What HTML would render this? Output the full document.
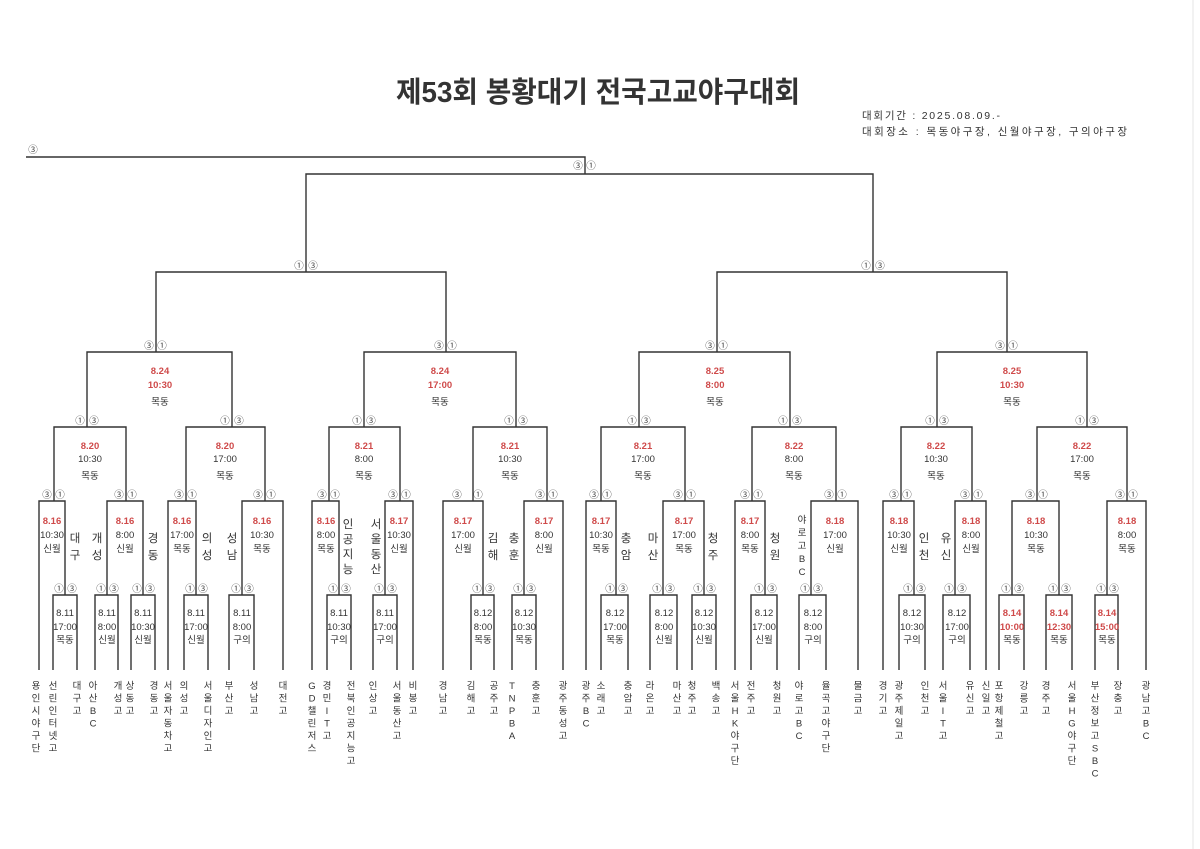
<!DOCTYPE html>
<html><head><meta charset="utf-8"><style>
body{margin:0;background:#fff;}
svg{display:block;font-family:"Liberation Sans","Noto Sans CJK KR",sans-serif;}
.l{fill:none;stroke:#333;stroke-width:1.4}
.t{font-size:9.5px;fill:#333;text-anchor:middle}
.r{font-size:9.5px;fill:#cf4a4a;text-anchor:middle;font-weight:bold}
.c{font-size:9.5px;fill:#444;text-anchor:middle}
.n{font-size:9.5px;fill:#333;text-anchor:middle}
.s{font-size:11.5px;fill:#333;text-anchor:middle}
</style></head><body>
<svg width="1200" height="849" viewBox="0 0 1200 849" xmlns="http://www.w3.org/2000/svg">
<rect width="1200" height="849" fill="#fff"/>
<line x1="1193" y1="0" x2="1193" y2="849" stroke="#e4e4e4" stroke-width="1"/>
<text x="598" y="102" text-anchor="middle" font-size="29" font-weight="bold" fill="#333" font-family="'Liberation Sans','Noto Sans CJK KR',sans-serif" textLength="404" lengthAdjust="spacingAndGlyphs">제53회 봉황대기 전국고교야구대회</text>
<text x="862" y="119" font-size="10.5" fill="#333" textLength="138" lengthAdjust="spacing">대회기간 : 2025.08.09.-</text>
<text x="862" y="135" font-size="10.5" fill="#333" textLength="265" lengthAdjust="spacing">대회장소 : 목동야구장, 신월야구장, 구의야구장</text>

<g class="l">
<path d="M26 157H585V174"/>
<path d="M306 272V174H873V272"/>
<path d="M156 352V272H446V352"/><path d="M717 352V272H1007V352"/>
<path d="M87 427V352H232V427"/><path d="M364 427V352H516V427"/><path d="M639 427V352H790V427"/><path d="M937 427V352H1087V427"/>
<path d="M54 501V427H126V501"/><path d="M186 501V427H265V501"/><path d="M329 501V427H400V501"/><path d="M473 501V427H547V501"/>
<path d="M601 501V427H685V501"/><path d="M752 501V427H836V501"/><path d="M901 501V427H972V501"/><path d="M1037 501V427H1127V501"/>
<path d="M39 670V501H65V595"/><path d="M107 595V501H143V595"/><path d="M168 670V501H196V595"/><path d="M242 595V501H283V670"/>
<path d="M312 670V501H339V595"/><path d="M385 595V501H413V670"/><path d="M443 670V501H483V595"/><path d="M524 595V501H563V670"/>
<path d="M586 670V501H616V595"/><path d="M663 595V501H704V595"/><path d="M735 670V501H765V595"/><path d="M811 595V501H858V670"/>
<path d="M883 670V501H914V595"/><path d="M955 595V501H986V670"/><path d="M1012 595V501H1059V595"/><path d="M1107 595V501H1146V670"/>
<path d="M53 670V595H77V670"/><path d="M95 670V595H118V670"/><path d="M131 670V595H155V670"/><path d="M184 670V595H208V670"/><path d="M229 670V595H254V670"/>
<path d="M327 670V595H351V670"/><path d="M373 670V595H397V670"/><path d="M471 670V595H494V670"/><path d="M512 670V595H536V670"/>
<path d="M601 670V595H628V670"/><path d="M650 670V595H677V670"/><path d="M692 670V595H716V670"/><path d="M751 670V595H777V670"/><path d="M799 670V595H826V670"/>
<path d="M899 670V595H925V670"/><path d="M943 670V595H970V670"/><path d="M999 670V595H1024V670"/><path d="M1046 670V595H1072V670"/><path d="M1095 670V595H1118V670"/>
</g>

<g class="c">
<text x="33" y="153">③</text>
<text x="578" y="169">③</text><text x="591" y="169">①</text>
<text x="299" y="269">①</text><text x="313" y="269">③</text>
<text x="866" y="269">①</text><text x="880" y="269">③</text>
<text x="149" y="349">③</text><text x="162" y="349">①</text>
<text x="439" y="349">③</text><text x="452" y="349">①</text>
<text x="710" y="349">③</text><text x="723" y="349">①</text>
<text x="1000" y="349">③</text><text x="1013" y="349">①</text>
<text x="80" y="424">①</text><text x="94" y="424">③</text>
<text x="225" y="424">①</text><text x="239" y="424">③</text>
<text x="357" y="424">①</text><text x="371" y="424">③</text>
<text x="509" y="424">①</text><text x="523" y="424">③</text>
<text x="632" y="424">①</text><text x="646" y="424">③</text>
<text x="783" y="424">①</text><text x="797" y="424">③</text>
<text x="930" y="424">①</text><text x="944" y="424">③</text>
<text x="1080" y="424">①</text><text x="1094" y="424">③</text>
<text x="47" y="498">③</text><text x="60" y="498">①</text>
<text x="119" y="498">③</text><text x="132" y="498">①</text>
<text x="179" y="498">③</text><text x="192" y="498">①</text>
<text x="258" y="498">③</text><text x="271" y="498">①</text>
<text x="322" y="498">③</text><text x="335" y="498">①</text>
<text x="393" y="498">③</text><text x="406" y="498">①</text>
<text x="457" y="498">③</text><text x="478" y="498">①</text>
<text x="540" y="498">③</text><text x="553" y="498">①</text>
<text x="594" y="498">③</text><text x="607" y="498">①</text>
<text x="678" y="498">③</text><text x="691" y="498">①</text>
<text x="745" y="498">③</text><text x="758" y="498">①</text>
<text x="829" y="498">③</text><text x="842" y="498">①</text>
<text x="894" y="498">③</text><text x="907" y="498">①</text>
<text x="965" y="498">③</text><text x="978" y="498">①</text>
<text x="1030" y="498">③</text><text x="1043" y="498">①</text>
<text x="1120" y="498">③</text><text x="1133" y="498">①</text>
<text x="59" y="592">①</text><text x="72" y="592">③</text>
<text x="101" y="592">①</text><text x="114" y="592">③</text>
<text x="137" y="592">①</text><text x="150" y="592">③</text>
<text x="190" y="592">①</text><text x="203" y="592">③</text>
<text x="236" y="592">①</text><text x="249" y="592">③</text>
<text x="333" y="592">①</text><text x="346" y="592">③</text>
<text x="379" y="592">①</text><text x="392" y="592">③</text>
<text x="477" y="592">①</text><text x="490" y="592">③</text>
<text x="518" y="592">①</text><text x="531" y="592">③</text>
<text x="610" y="592">①</text><text x="623" y="592">③</text>
<text x="657" y="592">①</text><text x="670" y="592">③</text>
<text x="698" y="592">①</text><text x="711" y="592">③</text>
<text x="759" y="592">①</text><text x="772" y="592">③</text>
<text x="805" y="592">①</text><text x="818" y="592">③</text>
<text x="908" y="592">①</text><text x="921" y="592">③</text>
<text x="949" y="592">①</text><text x="962" y="592">③</text>
<text x="1006" y="592">①</text><text x="1019" y="592">③</text>
<text x="1053" y="592">①</text><text x="1066" y="592">③</text>
<text x="1101" y="592">①</text><text x="1114" y="592">③</text>
</g>

<text class="r" x="160" y="374">8.24</text><text class="r" x="160" y="388">10:30</text><text class="t" x="160" y="405">목동</text>
<text class="r" x="440" y="374">8.24</text><text class="r" x="440" y="388">17:00</text><text class="t" x="440" y="405">목동</text>
<text class="r" x="715" y="374">8.25</text><text class="r" x="715" y="388">8:00</text><text class="t" x="715" y="405">목동</text>
<text class="r" x="1012" y="374">8.25</text><text class="r" x="1012" y="388">10:30</text><text class="t" x="1012" y="405">목동</text>

<text class="r" x="90" y="449">8.20</text><text class="t" x="90" y="462">10:30</text><text class="t" x="90" y="479">목동</text>
<text class="r" x="225" y="449">8.20</text><text class="t" x="225" y="462">17:00</text><text class="t" x="225" y="479">목동</text>
<text class="r" x="364" y="449">8.21</text><text class="t" x="364" y="462">8:00</text><text class="t" x="364" y="479">목동</text>
<text class="r" x="510" y="449">8.21</text><text class="t" x="510" y="462">10:30</text><text class="t" x="510" y="479">목동</text>
<text class="r" x="643" y="449">8.21</text><text class="t" x="643" y="462">17:00</text><text class="t" x="643" y="479">목동</text>
<text class="r" x="794" y="449">8.22</text><text class="t" x="794" y="462">8:00</text><text class="t" x="794" y="479">목동</text>
<text class="r" x="936" y="449">8.22</text><text class="t" x="936" y="462">10:30</text><text class="t" x="936" y="479">목동</text>
<text class="r" x="1082" y="449">8.22</text><text class="t" x="1082" y="462">17:00</text><text class="t" x="1082" y="479">목동</text>

<g>
<text class="r" x="52" y="524">8.16</text><text class="t" x="52" y="538">10:30</text><text class="t" x="52" y="552">신월</text>
<text class="r" x="125" y="524">8.16</text><text class="t" x="125" y="538">8:00</text><text class="t" x="125" y="552">신월</text>
<text class="r" x="182" y="524">8.16</text><text class="t" x="182" y="538">17:00</text><text class="t" x="182" y="552">목동</text>
<text class="r" x="262" y="524">8.16</text><text class="t" x="262" y="538">10:30</text><text class="t" x="262" y="552">목동</text>
<text class="r" x="326" y="524">8.16</text><text class="t" x="326" y="538">8:00</text><text class="t" x="326" y="552">목동</text>
<text class="r" x="399" y="524">8.17</text><text class="t" x="399" y="538">10:30</text><text class="t" x="399" y="552">신월</text>
<text class="r" x="463" y="524">8.17</text><text class="t" x="463" y="538">17:00</text><text class="t" x="463" y="552">신월</text>
<text class="r" x="544" y="524">8.17</text><text class="t" x="544" y="538">8:00</text><text class="t" x="544" y="552">신월</text>
<text class="r" x="601" y="524">8.17</text><text class="t" x="601" y="538">10:30</text><text class="t" x="601" y="552">목동</text>
<text class="r" x="684" y="524">8.17</text><text class="t" x="684" y="538">17:00</text><text class="t" x="684" y="552">목동</text>
<text class="r" x="750" y="524">8.17</text><text class="t" x="750" y="538">8:00</text><text class="t" x="750" y="552">목동</text>
<text class="r" x="835" y="524">8.18</text><text class="t" x="835" y="538">17:00</text><text class="t" x="835" y="552">신월</text>
<text class="r" x="899" y="524">8.18</text><text class="t" x="899" y="538">10:30</text><text class="t" x="899" y="552">신월</text>
<text class="r" x="971" y="524">8.18</text><text class="t" x="971" y="538">8:00</text><text class="t" x="971" y="552">신월</text>
<text class="r" x="1036" y="524">8.18</text><text class="t" x="1036" y="538">10:30</text><text class="t" x="1036" y="552">목동</text>
<text class="r" x="1127" y="524">8.18</text><text class="t" x="1127" y="538">8:00</text><text class="t" x="1127" y="552">목동</text>
</g>

<g>
<text class="t" x="65" y="616">8.11</text><text class="t" x="65" y="630">17:00</text><text class="t" x="65" y="643">목동</text>
<text class="t" x="107" y="616">8.11</text><text class="t" x="107" y="630">8:00</text><text class="t" x="107" y="643">신월</text>
<text class="t" x="143" y="616">8.11</text><text class="t" x="143" y="630">10:30</text><text class="t" x="143" y="643">신월</text>
<text class="t" x="196" y="616">8.11</text><text class="t" x="196" y="630">17:00</text><text class="t" x="196" y="643">신월</text>
<text class="t" x="242" y="616">8.11</text><text class="t" x="242" y="630">8:00</text><text class="t" x="242" y="643">구의</text>
<text class="t" x="339" y="616">8.11</text><text class="t" x="339" y="630">10:30</text><text class="t" x="339" y="643">구의</text>
<text class="t" x="385" y="616">8.11</text><text class="t" x="385" y="630">17:00</text><text class="t" x="385" y="643">구의</text>
<text class="t" x="483" y="616">8.12</text><text class="t" x="483" y="630">8:00</text><text class="t" x="483" y="643">목동</text>
<text class="t" x="524" y="616">8.12</text><text class="t" x="524" y="630">10:30</text><text class="t" x="524" y="643">목동</text>
<text class="t" x="615" y="616">8.12</text><text class="t" x="615" y="630">17:00</text><text class="t" x="615" y="643">목동</text>
<text class="t" x="664" y="616">8.12</text><text class="t" x="664" y="630">8:00</text><text class="t" x="664" y="643">신월</text>
<text class="t" x="704" y="616">8.12</text><text class="t" x="704" y="630">10:30</text><text class="t" x="704" y="643">신월</text>
<text class="t" x="764" y="616">8.12</text><text class="t" x="764" y="630">17:00</text><text class="t" x="764" y="643">신월</text>
<text class="t" x="813" y="616">8.12</text><text class="t" x="813" y="630">8:00</text><text class="t" x="813" y="643">구의</text>
<text class="t" x="912" y="616">8.12</text><text class="t" x="912" y="630">10:30</text><text class="t" x="912" y="643">구의</text>
<text class="t" x="957" y="616">8.12</text><text class="t" x="957" y="630">17:00</text><text class="t" x="957" y="643">구의</text>
<text class="r" x="1012" y="616">8.14</text><text class="r" x="1012" y="630">10:00</text><text class="t" x="1012" y="643">목동</text>
<text class="r" x="1059" y="616">8.14</text><text class="r" x="1059" y="630">12:30</text><text class="t" x="1059" y="643">목동</text>
<text class="r" x="1107" y="616">8.14</text><text class="r" x="1107" y="630">15:00</text><text class="t" x="1107" y="643">목동</text>
</g>

<g class="s">
<text x="75" y="542">대<tspan x="75" dy="17">구</tspan></text>
<text x="97" y="542">개<tspan x="97" dy="17">성</tspan></text>
<text x="153" y="542">경<tspan x="153" dy="17">동</tspan></text>
<text x="207" y="542">의<tspan x="207" dy="17">성</tspan></text>
<text x="232" y="542">성<tspan x="232" dy="17">남</tspan></text>
<text x="348" y="528">인<tspan x="348" dy="15">공</tspan><tspan x="348" dy="15">지</tspan><tspan x="348" dy="15">능</tspan></text>
<text x="376" y="528">서<tspan x="376" dy="15">울</tspan><tspan x="376" dy="15">동</tspan><tspan x="376" dy="15">산</tspan></text>
<text x="493" y="542">김<tspan x="493" dy="17">해</tspan></text>
<text x="514" y="542">충<tspan x="514" dy="17">훈</tspan></text>
<text x="626" y="542">충<tspan x="626" dy="17">암</tspan></text>
<text x="653" y="542">마<tspan x="653" dy="17">산</tspan></text>
<text x="713" y="542">청<tspan x="713" dy="17">주</tspan></text>
<text x="775" y="542">청<tspan x="775" dy="17">원</tspan></text>
<text x="924" y="542">인<tspan x="924" dy="17">천</tspan></text>
<text x="946" y="542">유<tspan x="946" dy="17">신</tspan></text>
</g>
<text class="n" x="802" y="523">야<tspan x="802" dy="13">로</tspan><tspan x="802" dy="13">고</tspan><tspan x="802" dy="13">B</tspan><tspan x="802" dy="13">C</tspan></text>

<g class="n">
<text x="36" y="689">용<tspan x="36" dy="12.5">인</tspan><tspan x="36" dy="12.5">시</tspan><tspan x="36" dy="12.5">야</tspan><tspan x="36" dy="12.5">구</tspan><tspan x="36" dy="12.5">단</tspan></text>
<text x="53" y="689">선<tspan x="53" dy="12.5">린</tspan><tspan x="53" dy="12.5">인</tspan><tspan x="53" dy="12.5">터</tspan><tspan x="53" dy="12.5">넷</tspan><tspan x="53" dy="12.5">고</tspan></text>
<text x="77" y="689">대<tspan x="77" dy="12.5">구</tspan><tspan x="77" dy="12.5">고</tspan></text>
<text x="93" y="689">아<tspan x="93" dy="12.5">산</tspan><tspan x="93" dy="12.5">B</tspan><tspan x="93" dy="12.5">C</tspan></text>
<text x="118" y="689">개<tspan x="118" dy="12.5">성</tspan><tspan x="118" dy="12.5">고</tspan></text>
<text x="130" y="689">상<tspan x="130" dy="12.5">동</tspan><tspan x="130" dy="12.5">고</tspan></text>
<text x="154" y="689">경<tspan x="154" dy="12.5">동</tspan><tspan x="154" dy="12.5">고</tspan></text>
<text x="168" y="689">서<tspan x="168" dy="12.5">울</tspan><tspan x="168" dy="12.5">자</tspan><tspan x="168" dy="12.5">동</tspan><tspan x="168" dy="12.5">차</tspan><tspan x="168" dy="12.5">고</tspan></text>
<text x="184" y="689">의<tspan x="184" dy="12.5">성</tspan><tspan x="184" dy="12.5">고</tspan></text>
<text x="208" y="689">서<tspan x="208" dy="12.5">울</tspan><tspan x="208" dy="12.5">디</tspan><tspan x="208" dy="12.5">자</tspan><tspan x="208" dy="12.5">인</tspan><tspan x="208" dy="12.5">고</tspan></text>
<text x="229" y="689">부<tspan x="229" dy="12.5">산</tspan><tspan x="229" dy="12.5">고</tspan></text>
<text x="254" y="689">성<tspan x="254" dy="12.5">남</tspan><tspan x="254" dy="12.5">고</tspan></text>
<text x="283" y="689">대<tspan x="283" dy="12.5">전</tspan><tspan x="283" dy="12.5">고</tspan></text>
<text x="312" y="689">G<tspan x="312" dy="12.5">D</tspan><tspan x="312" dy="12.5">챌</tspan><tspan x="312" dy="12.5">린</tspan><tspan x="312" dy="12.5">저</tspan><tspan x="312" dy="12.5">스</tspan></text>
<text x="327" y="689">경<tspan x="327" dy="12.5">민</tspan><tspan x="327" dy="12.5">I</tspan><tspan x="327" dy="12.5">T</tspan><tspan x="327" dy="12.5">고</tspan></text>
<text x="351" y="689">전<tspan x="351" dy="12.5">북</tspan><tspan x="351" dy="12.5">인</tspan><tspan x="351" dy="12.5">공</tspan><tspan x="351" dy="12.5">지</tspan><tspan x="351" dy="12.5">능</tspan><tspan x="351" dy="12.5">고</tspan></text>
<text x="373" y="689">인<tspan x="373" dy="12.5">상</tspan><tspan x="373" dy="12.5">고</tspan></text>
<text x="397" y="689">서<tspan x="397" dy="12.5">울</tspan><tspan x="397" dy="12.5">동</tspan><tspan x="397" dy="12.5">산</tspan><tspan x="397" dy="12.5">고</tspan></text>
<text x="413" y="689">비<tspan x="413" dy="12.5">봉</tspan><tspan x="413" dy="12.5">고</tspan></text>
<text x="443" y="689">경<tspan x="443" dy="12.5">남</tspan><tspan x="443" dy="12.5">고</tspan></text>
<text x="471" y="689">김<tspan x="471" dy="12.5">해</tspan><tspan x="471" dy="12.5">고</tspan></text>
<text x="494" y="689">공<tspan x="494" dy="12.5">주</tspan><tspan x="494" dy="12.5">고</tspan></text>
<text x="512" y="689">T<tspan x="512" dy="12.5">N</tspan><tspan x="512" dy="12.5">P</tspan><tspan x="512" dy="12.5">B</tspan><tspan x="512" dy="12.5">A</tspan></text>
<text x="536" y="689">충<tspan x="536" dy="12.5">훈</tspan><tspan x="536" dy="12.5">고</tspan></text>
<text x="563" y="689">광<tspan x="563" dy="12.5">주</tspan><tspan x="563" dy="12.5">동</tspan><tspan x="563" dy="12.5">성</tspan><tspan x="563" dy="12.5">고</tspan></text>
<text x="586" y="689">광<tspan x="586" dy="12.5">주</tspan><tspan x="586" dy="12.5">B</tspan><tspan x="586" dy="12.5">C</tspan></text>
<text x="601" y="689">소<tspan x="601" dy="12.5">래</tspan><tspan x="601" dy="12.5">고</tspan></text>
<text x="628" y="689">충<tspan x="628" dy="12.5">암</tspan><tspan x="628" dy="12.5">고</tspan></text>
<text x="650" y="689">라<tspan x="650" dy="12.5">온</tspan><tspan x="650" dy="12.5">고</tspan></text>
<text x="677" y="689">마<tspan x="677" dy="12.5">산</tspan><tspan x="677" dy="12.5">고</tspan></text>
<text x="692" y="689">청<tspan x="692" dy="12.5">주</tspan><tspan x="692" dy="12.5">고</tspan></text>
<text x="716" y="689">백<tspan x="716" dy="12.5">송</tspan><tspan x="716" dy="12.5">고</tspan></text>
<text x="735" y="689">서<tspan x="735" dy="12.5">울</tspan><tspan x="735" dy="12.5">H</tspan><tspan x="735" dy="12.5">K</tspan><tspan x="735" dy="12.5">야</tspan><tspan x="735" dy="12.5">구</tspan><tspan x="735" dy="12.5">단</tspan></text>
<text x="751" y="689">전<tspan x="751" dy="12.5">주</tspan><tspan x="751" dy="12.5">고</tspan></text>
<text x="777" y="689">청<tspan x="777" dy="12.5">원</tspan><tspan x="777" dy="12.5">고</tspan></text>
<text x="799" y="689">야<tspan x="799" dy="12.5">로</tspan><tspan x="799" dy="12.5">고</tspan><tspan x="799" dy="12.5">B</tspan><tspan x="799" dy="12.5">C</tspan></text>
<text x="826" y="689">율<tspan x="826" dy="12.5">곡</tspan><tspan x="826" dy="12.5">고</tspan><tspan x="826" dy="12.5">야</tspan><tspan x="826" dy="12.5">구</tspan><tspan x="826" dy="12.5">단</tspan></text>
<text x="858" y="689">물<tspan x="858" dy="12.5">금</tspan><tspan x="858" dy="12.5">고</tspan></text>
<text x="883" y="689">경<tspan x="883" dy="12.5">기</tspan><tspan x="883" dy="12.5">고</tspan></text>
<text x="899" y="689">광<tspan x="899" dy="12.5">주</tspan><tspan x="899" dy="12.5">제</tspan><tspan x="899" dy="12.5">일</tspan><tspan x="899" dy="12.5">고</tspan></text>
<text x="925" y="689">인<tspan x="925" dy="12.5">천</tspan><tspan x="925" dy="12.5">고</tspan></text>
<text x="943" y="689">서<tspan x="943" dy="12.5">울</tspan><tspan x="943" dy="12.5">I</tspan><tspan x="943" dy="12.5">T</tspan><tspan x="943" dy="12.5">고</tspan></text>
<text x="970" y="689">유<tspan x="970" dy="12.5">신</tspan><tspan x="970" dy="12.5">고</tspan></text>
<text x="986" y="689">신<tspan x="986" dy="12.5">일</tspan><tspan x="986" dy="12.5">고</tspan></text>
<text x="999" y="689">포<tspan x="999" dy="12.5">항</tspan><tspan x="999" dy="12.5">제</tspan><tspan x="999" dy="12.5">철</tspan><tspan x="999" dy="12.5">고</tspan></text>
<text x="1024" y="689">강<tspan x="1024" dy="12.5">릉</tspan><tspan x="1024" dy="12.5">고</tspan></text>
<text x="1046" y="689">경<tspan x="1046" dy="12.5">주</tspan><tspan x="1046" dy="12.5">고</tspan></text>
<text x="1072" y="689">서<tspan x="1072" dy="12.5">울</tspan><tspan x="1072" dy="12.5">H</tspan><tspan x="1072" dy="12.5">G</tspan><tspan x="1072" dy="12.5">야</tspan><tspan x="1072" dy="12.5">구</tspan><tspan x="1072" dy="12.5">단</tspan></text>
<text x="1095" y="689">부<tspan x="1095" dy="12.5">산</tspan><tspan x="1095" dy="12.5">정</tspan><tspan x="1095" dy="12.5">보</tspan><tspan x="1095" dy="12.5">고</tspan><tspan x="1095" dy="12.5">S</tspan><tspan x="1095" dy="12.5">B</tspan><tspan x="1095" dy="12.5">C</tspan></text>
<text x="1118" y="689">장<tspan x="1118" dy="12.5">충</tspan><tspan x="1118" dy="12.5">고</tspan></text>
<text x="1146" y="689">광<tspan x="1146" dy="12.5">남</tspan><tspan x="1146" dy="12.5">고</tspan><tspan x="1146" dy="12.5">B</tspan><tspan x="1146" dy="12.5">C</tspan></text>
</g>
</svg>
</body></html>
